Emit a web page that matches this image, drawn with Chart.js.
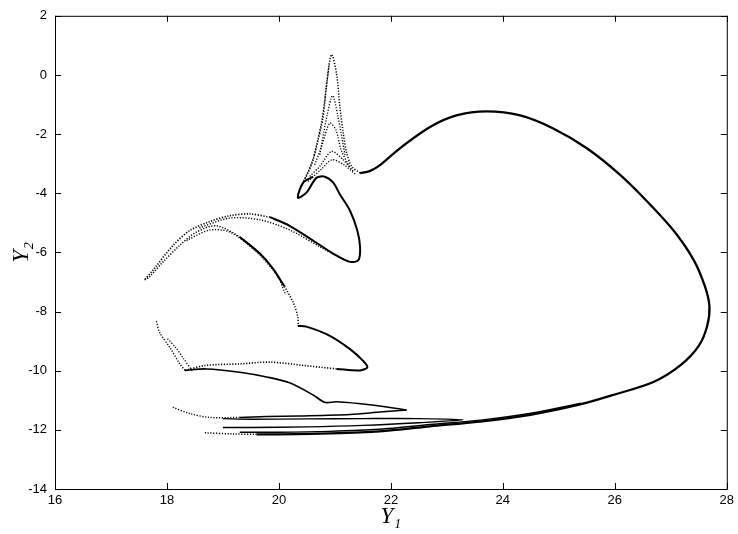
<!DOCTYPE html>
<html>
<head>
<meta charset="utf-8">
<script src="https://cdn.jsdelivr.net/npm/chart.js@4.4.0/dist/chart.umd.min.js"></script>
<style>
  html, body { margin: 0; padding: 0; background: #fff; }
  #wrap { width: 738px; height: 534px; }
</style>
</head>
<body>
<div id="wrap"><canvas id="attractor" width="738" height="534"></canvas></div>
<script>
// axis ranges
const y1Range = [16, 28];
const y2Range = [-14, 2];

// big outer loop, from the base of the spike round to the bottom band
const loopY1 = [21.45, 21.62, 21.80, 22.16, 22.70, 23.17, 23.71, 24.31, 24.90, 25.50, 26.09, 26.57, 27.05, 27.41, 27.61, 27.69, 27.65, 27.50, 27.17, 26.69, 25.97, 25.38, 24.49, 23.59, 22.70, 21.80, 20.91, 20.01, 19.60];
const loopY2 = [-3.32, -3.25, -3.06, -2.48, -1.76, -1.37, -1.23, -1.37, -1.81, -2.48, -3.37, -4.26, -5.26, -6.26, -7.15, -7.82, -8.49, -9.16, -9.82, -10.38, -10.82, -11.14, -11.49, -11.72, -11.88, -12.05, -12.12, -12.15, -12.15];
const loopTailY1 = [19.60, 19.20, 18.67];
const loopTailY2 = [-12.15, -12.14, -12.10];
const bottomY1 = [25.40, 24.50, 23.60, 22.70, 21.80, 20.90, 20.00, 19.30];
const bottomY2 = [-11.10, -11.44, -11.67, -11.82, -11.98, -12.05, -12.08, -12.08];

// dotted spike
const spikeY1 = [20.34, 20.43, 20.52, 20.61, 20.70, 20.79, 20.85, 20.94, 21.03, 21.09, 21.15, 21.21, 21.30, 21.45];
const spikeY2 = [-4.04, -3.65, -3.31, -2.87, -2.20, -1.42, -0.31, 0.69, 0.03, -1.09, -1.98, -2.64, -3.09, -3.32];
const spikeEdgeY1 = [20.40, 20.50, 20.60, 20.68, 20.76, 20.83, 20.90];
const spikeEdgeY2 = [-3.75, -3.35, -2.90, -2.30, -1.60, -0.70, 0.40];
const spikeAY1 = [20.55, 20.73, 20.94, 21.15, 21.33];
const spikeAY2 = [-3.43, -3.09, -2.59, -2.87, -3.26];
const spikeBY1 = [20.64, 20.77, 20.91, 21.02, 21.11, 21.27];
const spikeBY2 = [-3.04, -2.37, -1.63, -1.87, -2.53, -3.14];
const spikeCY1 = [20.73, 20.86, 20.96, 21.05, 21.18];
const spikeCY2 = [-2.70, -1.37, -0.70, -1.37, -2.70];
const spikeDY1 = [20.52, 20.75, 20.95, 21.17, 21.36];
const spikeDY2 = [-3.60, -3.20, -2.87, -3.05, -3.35];

// small loop and the fold down to -6.3
const foldY1 = [20.61, 20.43, 20.34, 20.49, 20.67, 20.82, 20.97, 21.09, 21.27, 21.40, 21.45, 21.42, 21.27, 20.97, 20.61, 20.19, 19.84];
const foldY2 = [-3.44, -3.65, -4.15, -3.98, -3.48, -3.44, -3.64, -4.04, -4.59, -5.26, -5.82, -6.26, -6.32, -6.04, -5.60, -5.10, -4.81];

// left arcs
const outerArcY1 = [19.84, 19.48, 19.12, 18.76, 18.41, 18.11, 17.75, 17.60];
const outerArcY2 = [-4.81, -4.70, -4.76, -4.96, -5.26, -5.76, -6.60, -6.93];
const secondArcY1 = [18.58, 19.12, 19.66, 20.19, 20.73, 21.18];
const secondArcY2 = [-5.17, -4.84, -4.90, -5.24, -5.81, -6.27];
const innerArcY1 = [17.60, 17.69, 17.93, 18.23, 18.52, 18.88, 19.30, 19.66];
const innerArcY2 = [-6.93, -6.82, -6.32, -5.76, -5.32, -5.10, -5.48, -6.04];
const innerSolidY1 = [19.30, 19.66, 19.89, 20.10];
const innerSolidY2 = [-5.48, -6.04, -6.54, -7.15];
const innerDropY1 = [20.10, 20.26, 20.34, 20.34];
const innerDropY2 = [-7.15, -7.71, -8.21, -8.49];
const innerTwinY1 = [18.35, 18.75, 19.12, 19.55, 19.96, 20.12];
const innerTwinY2 = [-5.60, -5.25, -5.31, -5.90, -6.76, -7.43];

// the -10 fold
const hookY1 = [20.34, 20.49, 20.91, 21.27, 21.50, 21.58, 21.45, 21.03];
const hookY2 = [-8.49, -8.51, -8.82, -9.27, -9.66, -9.88, -9.99, -9.94];
const tenBandY1 = [21.03, 20.43, 19.84, 19.30, 18.70, 18.32];
const tenBandY2 = [-9.94, -9.82, -9.71, -9.77, -9.82, -9.99];
const diagY1 = [18.32, 18.23, 18.05, 17.87, 17.81];
const diagY2 = [-9.99, -9.77, -9.21, -8.71, -8.32];
const diagTwinY1 = [18.45, 18.30, 18.15, 18.00];
const diagTwinY2 = [-10.00, -9.60, -9.20, -8.90];

// the -11 folds
const stepY1 = [18.32, 18.70, 19.30, 19.78, 20.19, 20.61, 20.82, 21.03, 21.62, 22.28];
const stepY2 = [-9.99, -9.94, -10.05, -10.21, -10.41, -10.82, -11.07, -11.05, -11.15, -11.33];
const stepBackY1 = [22.28, 21.80, 21.27, 20.37, 19.78, 19.30];
const stepBackY2 = [-11.33, -11.40, -11.48, -11.53, -11.55, -11.58];
const stepTailY1 = [19.30, 18.76, 18.41, 18.08];
const stepTailY2 = [-11.58, -11.58, -11.45, -11.22];
const bandBY1 = [19.00, 19.50, 20.50, 21.50, 22.50, 23.29, 22.50, 21.50, 20.50, 19.50, 19.00];
const bandBY2 = [-11.62, -11.64, -11.63, -11.62, -11.62, -11.66, -11.76, -11.85, -11.90, -11.92, -11.92];

function strand(xs, ys, solid, width) {
    return {
        data: xs.map((v, i) => ({ x: v, y: ys[i] })),
        showLine: true,
        pointRadius: 0,
        borderColor: '#000',
        borderWidth: width,
        borderDash: solid ? [] : [1.2, 1.6],
        tension: 0.3,
        fill: false
    };
}

// frame with inward tick marks, like the original plot
const frameTicks = {
    id: 'frameTicks',
    afterDraw(chart) {
        const { ctx, chartArea: a, scales } = chart;
        const xs = scales.x, ys = scales.y;
        ctx.save();
        ctx.strokeStyle = '#000';
        ctx.lineWidth = 1;
        ctx.strokeRect(a.left + 0.5, a.top + 0.5, a.right - a.left, a.bottom - a.top);
        ctx.beginPath();
        xs.ticks.forEach(t => {
            const p = Math.round(xs.getPixelForValue(t.value)) + 0.5;
            ctx.moveTo(p, a.bottom); ctx.lineTo(p, a.bottom - 6);
            ctx.moveTo(p, a.top); ctx.lineTo(p, a.top + 6);
        });
        ys.ticks.forEach(t => {
            const p = Math.round(ys.getPixelForValue(t.value)) + 0.5;
            ctx.moveTo(a.left, p); ctx.lineTo(a.left + 6, p);
            ctx.moveTo(a.right, p); ctx.lineTo(a.right - 6, p);
        });
        ctx.stroke();
        ctx.restore();
    }
};

const datasets = [
    strand(loopY1, loopY2, true, 2.3),
    strand(loopTailY1, loopTailY2, false, 1.5),
    strand(bottomY1, bottomY2, true, 1.4),
    strand(spikeY1, spikeY2, false, 1.5),
    strand(spikeEdgeY1, spikeEdgeY2, false, 1.3),
    strand(spikeAY1, spikeAY2, false, 1.4),
    strand(spikeBY1, spikeBY2, false, 1.3),
    strand(spikeCY1, spikeCY2, false, 1.3),
    strand(spikeDY1, spikeDY2, false, 1.3),
    strand(foldY1, foldY2, true, 2),
    strand(outerArcY1, outerArcY2, false, 1.7),
    strand(secondArcY1, secondArcY2, false, 1.4),
    strand(innerArcY1, innerArcY2, false, 1.5),
    strand(innerSolidY1, innerSolidY2, true, 2),
    strand(innerDropY1, innerDropY2, false, 1.5),
    strand(innerTwinY1, innerTwinY2, false, 1.3),
    strand(hookY1, hookY2, true, 2),
    strand(tenBandY1, tenBandY2, false, 1.6),
    strand(diagY1, diagY2, false, 1.4),
    strand(diagTwinY1, diagTwinY2, false, 1.3),
    strand(stepY1, stepY2, true, 1.6),
    strand(stepBackY1, stepBackY2, true, 1.5),
    strand(stepTailY1, stepTailY2, false, 1.4),
    strand(bandBY1, bandBY2, true, 1.4)
];

new Chart(document.getElementById('attractor'), {
    type: 'scatter',
    data: { datasets: datasets },
    options: {
        responsive: false,
        animation: false,
        layout: { padding: { top: 9, right: 11, left: 0, bottom: 0 } },
        plugins: { legend: { display: false }, tooltip: { enabled: false } },
        scales: {
            x: {
                min: y1Range[0],
                max: y1Range[1],
                grid: { display: false, drawTicks: false },
                border: { display: false },
                ticks: { stepSize: 2, padding: 4, color: '#000', font: { family: 'Liberation Sans', size: 13 } },
                title: {
                    display: true,
                    text: 'Y\u2081',
                    color: '#000',
                    padding: { top: 0, bottom: 3 },
                    font: { family: 'Liberation Serif', style: 'italic', size: 23, lineHeight: 1.2 }
                },
                afterFit: s => { s.height = 45; }
            },
            y: {
                min: y2Range[0],
                max: y2Range[1],
                grid: { display: false, drawTicks: false },
                border: { display: false },
                ticks: { stepSize: 2, padding: 8, color: '#000', font: { family: 'Liberation Sans', size: 13 } },
                title: {
                    display: true,
                    text: 'Y\u2082',
                    color: '#000',
                    padding: { top: 8, bottom: 0 },
                    font: { family: 'Liberation Serif', style: 'italic', size: 23, lineHeight: 1.2 }
                },
                afterFit: s => { s.width = 55; }
            }
        }
    },
    plugins: [frameTicks]
});
</script>
</body>
</html>
